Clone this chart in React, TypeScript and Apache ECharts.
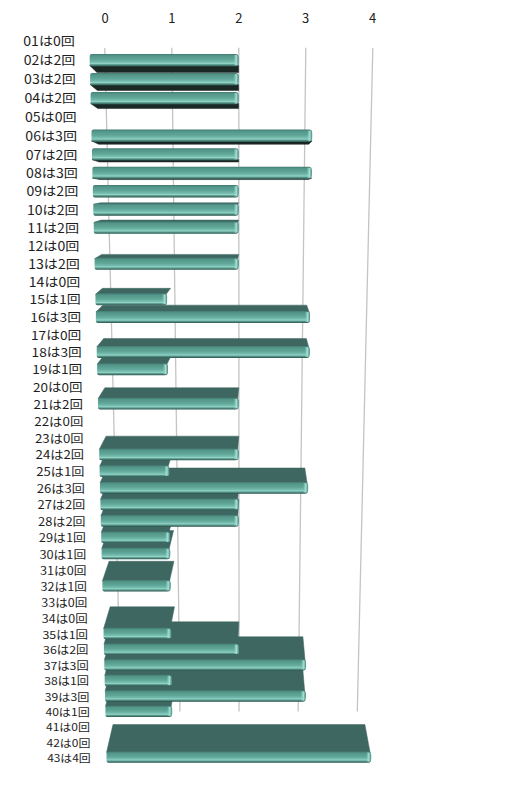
import React, { useEffect, useRef } from "react";
import * as echarts from "echarts";

// ---- data ----
const rowNames = [
  "01", "02", "03", "04", "05", "06", "07", "08", "09", "10",
  "11", "12", "13", "14", "15", "16", "17", "18", "19", "20",
  "21", "22", "23", "24", "25", "26", "27", "28", "29", "30",
  "31", "32", "33", "34", "35", "36", "37", "38", "39", "40",
  "41", "42", "43",
];
const counts = [
  0, 2, 2, 2, 0, 3, 2, 3, 2, 2,
  2, 0, 2, 0, 1, 3, 0, 3, 1, 0,
  2, 0, 0, 2, 1, 3, 2, 2, 1, 1,
  0, 1, 0, 0, 1, 2, 3, 1, 3, 1,
  0, 0, 4,
];
const rowLabels = rowNames.map((n, i) => `${n}は${counts[i]}回`);
const xTicks = [0, 1, 2, 3, 4];

// ---- perspective / style constants ----
const VX = 241; // vanishing point x
const VY = 190; // vanishing point y
const S_BAR = 0.952; // depth scale of bar back faces
const S_WALL = 0.896; // depth scale of back wall
const G = 0.003064; // row foreshortening
const GL = 0.0025; // label foreshortening
const HALF = 6.3; // half height of bar front face (top row)
const LABEL_GAP = 30;
const LABEL_STRETCH = 1.13;
const FONT = "'Noto Sans CJK JP', 'Noto Sans', sans-serif";

const TOP_FACE = "#3e6761";
const BOTTOM_FACE = "#1a2725";

function persp(api: any) {
  const o = api.coord([0, 0]);
  const band = api.size([0, 1])[1];
  const n = counts.length - 1;
  const f = (xa: number, ya: number) => {
    const t = (ya - o[1]) / band;
    const d = 1 + G * t;
    return {
      x: VX + (xa - VX) / S_WALL / d,
      y: o[1] + ((ya - o[1]) * (1 + G * n)) / d,
      t,
      d,
    };
  };
  return { f, band, o };
}

const back = (x: number, y: number, s: number) => [VX + s * (x - VX), VY + s * (y - VY)];

const frontGrad = () =>
  new echarts.graphic.LinearGradient(0, 0, 0, 1, [
    { offset: 0, color: "#447a71" },
    { offset: 0.15, color: "#53968a" },
    { offset: 0.45, color: "#5fa698" },
    { offset: 0.66, color: "#74bcad" },
    { offset: 0.76, color: "#93d3c6" },
    { offset: 0.86, color: "#58988c" },
    { offset: 1, color: "#2a524b" },
  ]);

const capGrad = () =>
  new echarts.graphic.LinearGradient(0, 0, 1, 0, [
    { offset: 0, color: "rgba(150,215,205,0)" },
    { offset: 0.55, color: "#a4e0d6" },
    { offset: 1, color: "#4b877d" },
  ]);

const barData = counts.map((v, i) => [v, i]);
const gridData = xTicks.map((v) => [v, 0]);

function renderGrid(params: any, api: any) {
  const v = api.value(0);
  const { f, band, o } = persp(api);
  const xa = api.coord([v, 0])[0];
  const p1 = f(xa, o[1] - 0.5 * band);
  const p2 = f(xa, o[1] + counts.length * band);
  const a = back(p1.x, p1.y, S_WALL);
  const b = back(p2.x, p2.y, S_WALL);
  return {
    type: "line",
    shape: { x1: a[0], y1: a[1], x2: b[0], y2: b[1] },
    style: { stroke: "#c4c4c4", lineWidth: 1.3 },
  };
}

function renderBar(params: any, api: any) {
  const v = api.value(0);
  const cat = api.value(1);
  const { f, o, band } = persp(api);
  const a = api.coord([0, cat]);
  const b = api.coord([v, cat]);
  const L = f(a[0], a[1]);
  const R = f(b[0], b[1]);
  const next = f(a[0], a[1] + band);
  const prev = f(a[0], a[1] - band);
  const pitch = Math.min(next.y - L.y, L.y - prev.y);
  const h = HALF / L.d;
  const yc = L.y;
  const base = Math.round((2000 - Math.abs(yc - VY) * 2) * 4);
  const children: any[] = [];
  const labelX = VX + (o[0] - LABEL_GAP - VX) / (1 + GL * L.t);
  children.push({
    type: "text",
    z2: 100000,
    x: labelX,
    y: yc,
    scaleX: LABEL_STRETCH,
    style: {
      text: rowLabels[cat],
      x: 0,
      y: 0,
      align: "right",
      verticalAlign: "middle",
      fontSize: Math.min(12.5, pitch / 1.43),
      fontFamily: FONT,
      fill: "#1e1e1e",
    },
  });
  if (v > 0) {
    const top = yc - h;
    const bot = yc + h;
    const xl = L.x;
    const xr = R.x;
    if (top > VY) {
      const b1 = back(xl, top, S_BAR);
      const b2 = back(xr, top, S_BAR);
      children.push({
        type: "polygon",
        z2: base,
        shape: { points: [[xl, top + 1], [xr - 1, top + 1], b2, b1] },
        style: { fill: TOP_FACE, stroke: TOP_FACE, lineWidth: 0.5 },
      });
    } else if (bot < VY) {
      const b1 = back(xl, bot, S_BAR);
      const b2 = back(xr, bot, S_BAR);
      children.push({
        type: "polygon",
        z2: base,
        shape: { points: [[xl, bot - 1], [xr, bot - 1], b2, b1] },
        style: { fill: BOTTOM_FACE, stroke: BOTTOM_FACE, lineWidth: 0.5 },
      });
    }
    children.push({
      type: "rect",
      z2: base + 1,
      shape: { x: xl, y: top, width: xr - xl, height: 2 * h, r: [2, 3, 3, 2] },
      style: { fill: frontGrad() },
    });
    children.push({
      type: "rect",
      z2: base + 2,
      shape: { x: xr - 5, y: top + 1, width: 5, height: 2 * h - 2, r: [0, 3, 3, 0] },
      style: { fill: capGrad() },
    });
  }
  return { type: "group", children };
}

const option: any = {
  animation: false,
  backgroundColor: "#ffffff",
  grid: { left: 105, right: 134.4, top: 32.48, bottom: 22.4, containLabel: false },
  xAxis: {
    type: "value",
    position: "top",
    min: 0,
    max: 4,
    interval: 1,
    axisLine: { show: false },
    axisTick: { show: false },
    splitLine: { show: false },
    axisLabel: { fontSize: 13, color: "#222", margin: 8, fontFamily: FONT },
  },
  yAxis: {
    type: "category",
    data: rowLabels,
    inverse: true,
    show: false,
  },
  series: [
    {
      type: "custom",
      z: 1,
      silent: true,
      coordinateSystem: "cartesian2d",
      encode: { x: 0, y: 1 },
      data: gridData,
      renderItem: renderGrid,
    },
    {
      type: "custom",
      z: 2,
      silent: true,
      coordinateSystem: "cartesian2d",
      encode: { x: 0, y: 1 },
      data: barData,
      renderItem: renderBar,
    },
  ],
};

export default function App() {
  const ref = useRef<HTMLDivElement>(null);
  useEffect(() => {
    document.body.style.margin = "0";
    const chart = echarts.init(ref.current!, null, { renderer: "svg" });
    chart.setOption(option);
    return () => chart.dispose();
  }, []);
  return <div ref={ref} style={{ width: 507, height: 788 }} />;
}
